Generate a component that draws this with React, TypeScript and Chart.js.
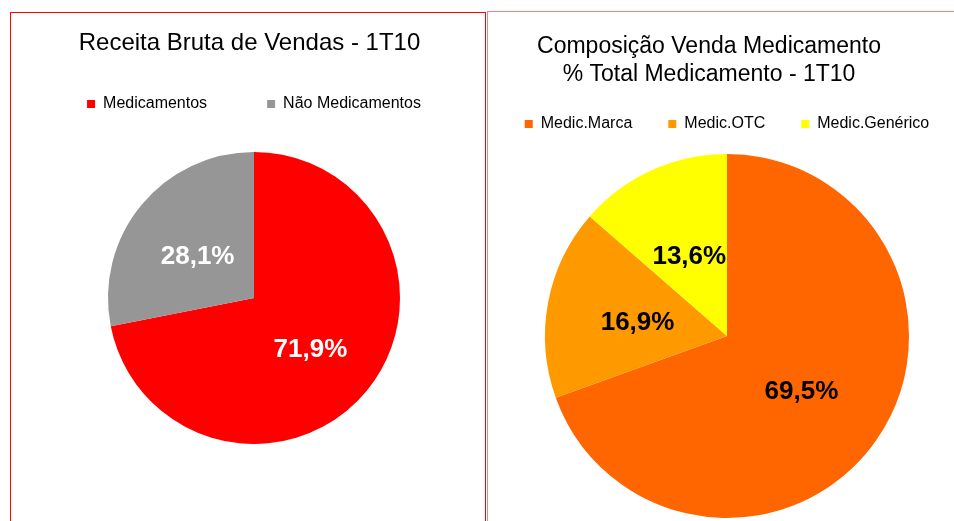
import React, { useEffect, useRef } from 'react';
import { Chart, registerables } from 'chart.js';

Chart.register(...registerables);

const FONT = '"Liberation Sans", Arial, Helvetica, sans-serif';

// Left chart data
const salesTitle = 'Receita Bruta de Vendas - 1T10';
const salesCategories = ['Medicamentos', 'Não Medicamentos'];
const salesValues = [71.9, 28.1];
const salesColors = ['#FF0000', '#969696'];

// Right chart data
const drugTitle = 'Composição Venda Medicamento\n% Total Medicamento - 1T10';
const drugCategories = ['Medic.Marca', 'Medic.OTC', 'Medic.Genérico'];
const drugValues = [69.5, 16.9, 13.6];
const drugColors = ['#FF6600', '#FF9900', '#FFFF00'];

const fmt = (v: number) => v.toFixed(1).replace('.', ',') + '%';

const legendGap = {
  id: 'legendGap',
  beforeInit(chart: any, _a: any, opts: any) {
    const legend = chart.legend;
    if (!legend) return;
    const orig = legend.fit;
    legend.fit = function () {
      orig.call(this);
      this.height += opts.extra || 0;
    };
  },
};

const sliceLabels = {
  id: 'sliceLabels',
  afterDatasetsDraw(chart: any, _a: any, opts: any) {
    const ctx = chart.ctx;
    const meta = chart.getDatasetMeta(0);
    const data = chart.data.datasets[0].data as number[];
    ctx.save();
    ctx.font = opts.font;
    ctx.fillStyle = opts.color;
    ctx.textAlign = 'center';
    ctx.textBaseline = 'middle';
    meta.data.forEach((arc: any, i: number) => {
      const p = arc.tooltipPosition(false);
      ctx.fillText(fmt(data[i]), p.x, p.y + (opts.dy || 0));
    });
    ctx.restore();
  },
};

const panelTitle = {
  id: 'panelTitle',
  afterDraw(chart: any, _a: any, opts: any) {
    const ctx = chart.ctx;
    ctx.save();
    ctx.font = opts.font;
    ctx.fillStyle = '#000000';
    ctx.textAlign = 'center';
    ctx.textBaseline = 'alphabetic';
    String(opts.text)
      .split('\n')
      .forEach((t: string, i: number) => ctx.fillText(t, opts.x, opts.y + i * opts.lineHeight));
    ctx.restore();
  },
};

type PieProps = {
  width: number;
  height: number;
  labels: string[];
  values: number[];
  colors: string[];
  padding: { top: number; bottom: number; left: number; right: number };
  legendPadding: number;
  legendExtra: number;
  labelColor: string;
  labelDy: number;
  title: string;
  titleFont: string;
  titleX: number;
  titleY: number;
  titleLineHeight: number;
};

function PieChart(p: PieProps) {
  const ref = useRef<HTMLCanvasElement | null>(null);
  useEffect(() => {
    if (!ref.current) return;
    const chart = new Chart(ref.current, {
      type: 'pie',
      data: {
        labels: p.labels,
        datasets: [
          {
            data: p.values,
            backgroundColor: p.colors,
            borderWidth: 0,
            hoverOffset: 0,
          },
        ],
      },
      options: {
        responsive: false,
        maintainAspectRatio: false,
        animation: false,
        events: [],
        layout: { padding: p.padding },
        plugins: {
          legend: {
            display: true,
            position: 'top',
            labels: {
              boxWidth: 8,
              boxHeight: 8,
              padding: p.legendPadding,
              color: '#000000',
              font: { family: FONT, size: 16 },
            },
          },
          tooltip: { enabled: false },
          legendGap: { extra: p.legendExtra },
          sliceLabels: { font: `bold 26px ${FONT}`, color: p.labelColor, dy: p.labelDy },
          panelTitle: {
            text: p.title,
            font: p.titleFont,
            x: p.titleX,
            y: p.titleY,
            lineHeight: p.titleLineHeight,
          },
        } as any,
      },
      plugins: [legendGap, sliceLabels, panelTitle],
    } as any);
    return () => chart.destroy();
  }, []);
  return (
    <canvas
      ref={ref}
      width={p.width}
      height={p.height}
      style={{ display: 'block', width: p.width, height: p.height }}
    />
  );
}

export default function App() {
  return (
    <div
      style={{
        position: 'fixed',
        left: 0,
        top: 0,
        width: 954,
        height: 521,
        overflow: 'hidden',
        background: '#ffffff',
      }}
    >
      <div
        style={{
          position: 'absolute',
          left: 10,
          top: 12,
          width: 476,
          height: 520,
          boxSizing: 'border-box',
          border: '1px solid #FF0000',
        }}
      >
        <PieChart
          width={474}
          height={507}
          labels={salesCategories}
          values={salesValues}
          colors={salesColors}
          padding={{ top: 23, bottom: 76, left: 12, right: 0 }}
          legendPadding={60}
          legendExtra={30}
          labelColor="#FFFFFF"
          labelDy={5}
          title={salesTitle}
          titleFont={`24px ${FONT}`}
          titleX={238.5}
          titleY={36.5}
          titleLineHeight={28}
        />
      </div>
      <div
        style={{
          position: 'absolute',
          left: 487,
          top: 11,
          width: 500,
          height: 540,
          boxSizing: 'border-box',
          border: '1px solid #FF8080',
        }}
      >
        <PieChart
          width={488}
          height={520}
          labels={drugCategories}
          values={drugValues}
          colors={drugColors}
          padding={{ top: 68, bottom: 14, left: 0, right: 10 }}
          legendPadding={36}
          legendExtra={12}
          labelColor="#000000"
          labelDy={4}
          title={drugTitle}
          titleFont={`23px ${FONT}`}
          titleX={221}
          titleY={41}
          titleLineHeight={28}
        />
      </div>
    </div>
  );
}
